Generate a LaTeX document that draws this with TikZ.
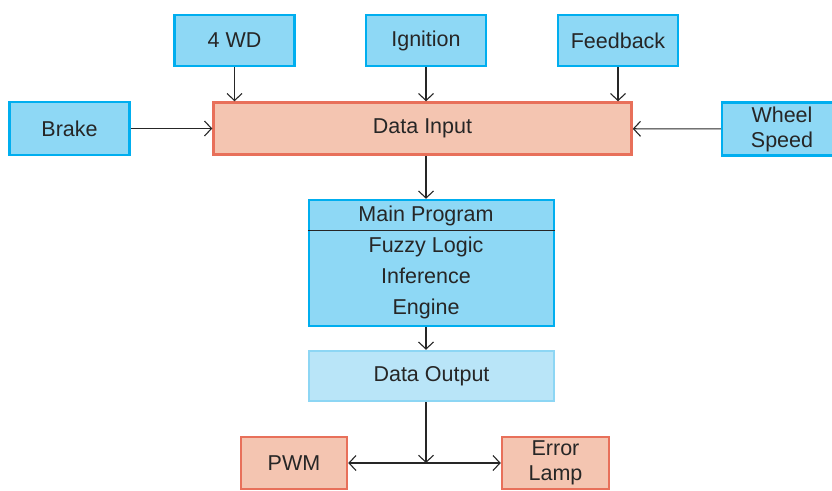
\documentclass[tikz,border=0pt]{standalone}
\usepackage{fontspec}
\setmainfont{Liberation Sans}
\usetikzlibrary{arrows.meta,positioning,calc}
\definecolor{boxblue}{HTML}{8ED8F5}
\definecolor{lineblue}{HTML}{00AEEF}
\definecolor{boxsalmon}{HTML}{F4C5B1}
\definecolor{linesalmon}{HTML}{E8705A}
\definecolor{paleblue}{HTML}{B9E5F8}
\definecolor{palelineblue}{HTML}{8DD6F4}

\begin{document}
\begin{tikzpicture}[x=1pt,y=-1pt,font=\fontsize{21.5}{25}\selectfont]
	\tikzstyle{BlueBox}=[draw=lineblue,fill=boxblue,line width=2.5pt,minimum width=120pt,minimum height=51pt,inner sep=0pt,align=center,text=black!85]
	\tikzstyle{SalmonBox}=[draw=linesalmon,fill=boxsalmon,line width=2.5pt,minimum height=52pt,inner sep=0pt,align=center,text=black!85]
	\tikzstyle{PaleBox}=[draw=palelineblue,fill=paleblue,line width=2.5pt,minimum width=245pt,minimum height=50pt,inner sep=0pt,text=black!85]
	\tikzstyle{Arrow}=[line width=1.1pt,black!85,-{Straight Barb[length=7pt,width=15pt]}]
	\useasboundingbox (0,0) rectangle (832,490);
	\clip (0,0) rectangle (832,490);
	% inputs
	\node[BlueBox] (wd) at (234.5,40.5) {4 WD};
	\node[BlueBox] (ign) at (426,40.5) {Ignition};
	\node[BlueBox] (feed) at (618,40.5) {Feedback};
	\node[BlueBox,minimum height=53pt] (brake) at (69.5,128.5) {Brake};
	\node[BlueBox,minimum height=53pt] (speed) at (782,129) {Wheel\\Speed};
	\node[SalmonBox,minimum width=418pt] (in) at (422.5,128.5) {Data Input};
	% processing
	\node[BlueBox,minimum width=245pt,minimum height=126pt] (main) at (431.5,263) {};
	\node[align=center,text=black!85,font=\fontsize{21.5}{31}\selectfont] (mainText) at ($(ign |- main)+(0,-1)$) {Main Program\\Fuzzy Logic\\Inference\\Engine};
	\draw[line width=1.1pt,black!85] ($(main.north west)!0.25!(main.south west)$) -- ($(main.north east)!0.25!(main.south east)$);
	\node[PaleBox] (out) at (431.5,376) {Data Output};
	% outputs
	\node[SalmonBox,minimum width=106pt] (pwm) at (294,463) {PWM};
	\node[SalmonBox,minimum width=107pt] (lamp) at (555.5,463) {Error\\Lamp};
	\coordinate (split) at (ign |- pwm);
	% connectors
	\draw[Arrow] (wd) -- (wd |- in.north);
	\draw[Arrow] (ign) -- (ign |- in.north);
	\draw[Arrow] (feed) -- (feed |- in.north);
	\draw[Arrow] (brake) -- (in);
	\draw[Arrow] (speed) -- (in);
	\draw[Arrow] (ign |- in.south) -- (ign |- main.north);
	\draw[Arrow] (ign |- main.south) -- (ign |- out.north);
	\draw[Arrow] (ign |- out.south) -- (split);
	\draw[Arrow,{Straight Barb[length=7pt,width=15pt]}-{Straight Barb[length=7pt,width=15pt]}] (pwm) -- (lamp);
\end{tikzpicture}
\end{document}
